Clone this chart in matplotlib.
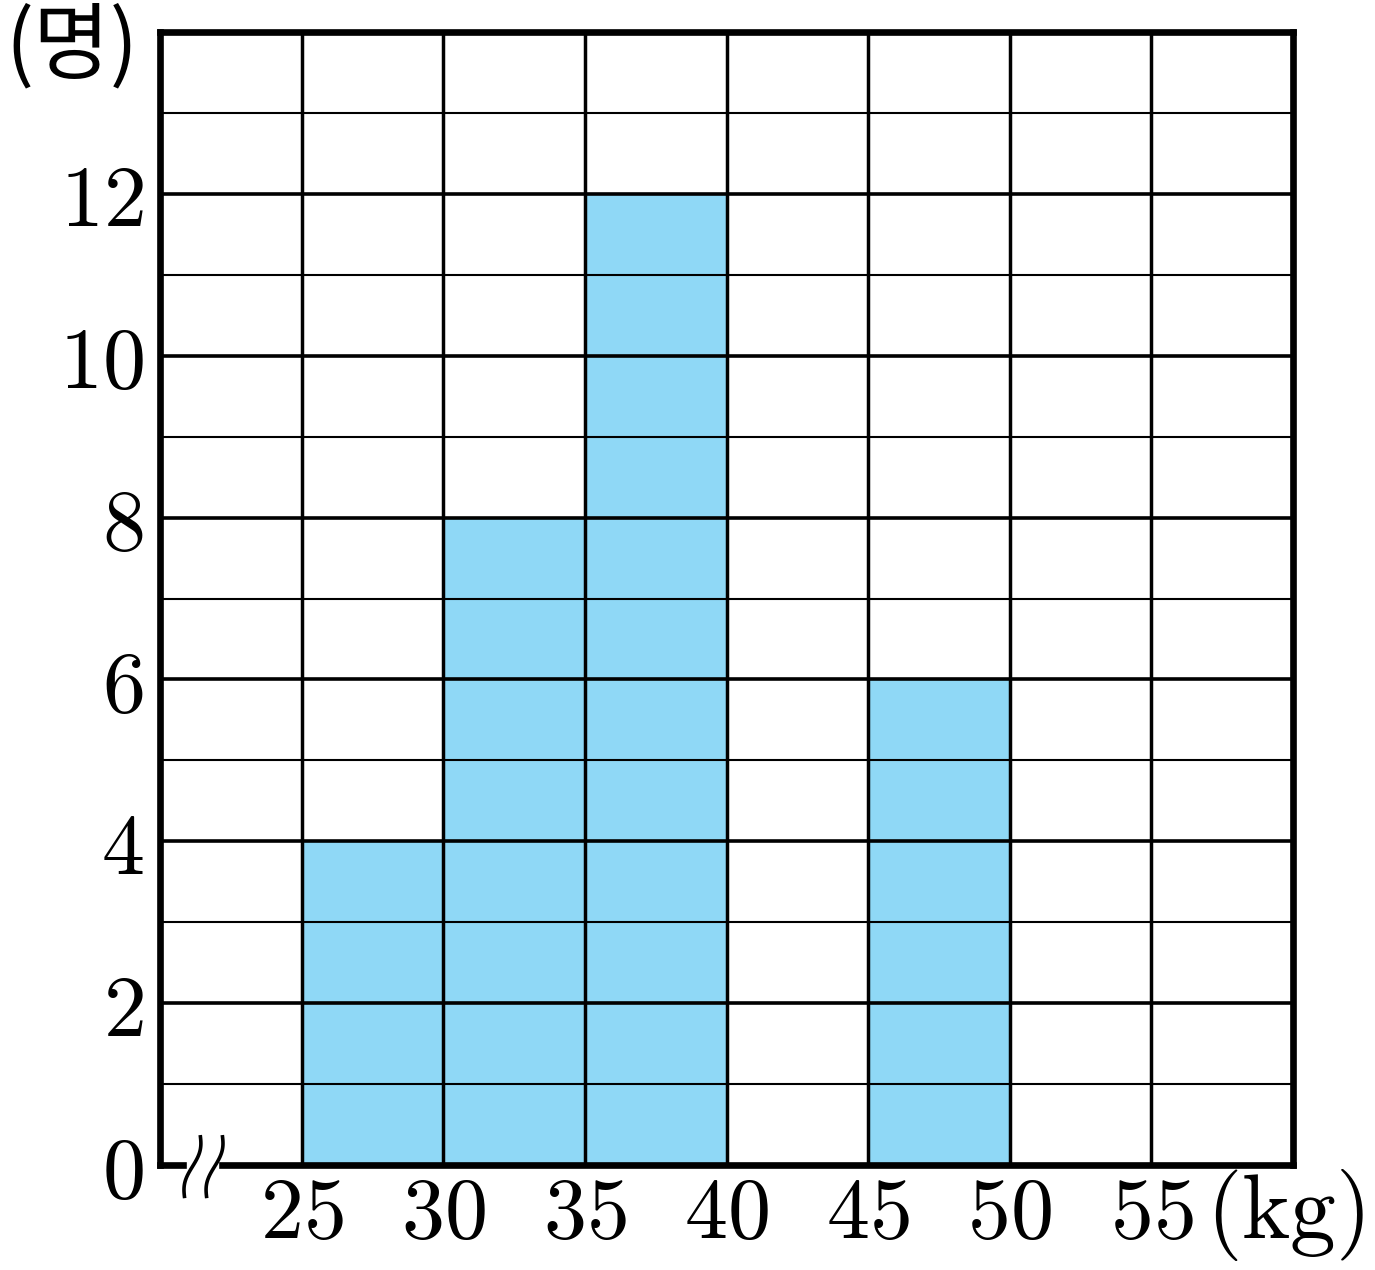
import matplotlib
matplotlib.use("Agg")
import matplotlib.pyplot as plt
import numpy as np

plt.rcParams['mathtext.fontset'] = 'cm'

# Data
bin_left = [25, 30, 35, 40, 45, 50, 55]
counts = [4, 8, 12, 0, 6, 0, 0]
x_tick_vals = [20, 25, 30, 35, 40, 45, 50, 55, 60]
x_tick_labels = ['', '25', '30', '35', '40', '45', '50', '55', '']
y_tick_vals = [0, 2, 4, 6, 8, 10, 12, 14]
y_tick_labels = ['0', '2', '4', '6', '8', '10', '12', '']

W, H = 1375, 1270
fig = plt.figure(figsize=(W / 100, H / 100), dpi=100)
ax = fig.add_axes([160 / W, 1 - 1165 / H, (1293 - 160) / W, (1165 - 32) / H])

ax.bar(bin_left, counts, width=5, align='edge', color='#8fd8f6', edgecolor='none', zorder=1)

ax.set_xlim(20, 60)
ax.set_ylim(0, 14)

ax.set_xticks(x_tick_vals)
ax.set_xticklabels(['$%s$' % t if t else '' for t in x_tick_labels])
ax.set_yticks(y_tick_vals)
ax.set_yticklabels(['$%s$' % t if t else '' for t in y_tick_labels])
ax.set_yticks(np.arange(1, 14, 2), minor=True)

ax.tick_params(axis='both', which='both', length=0)
ax.tick_params(axis='x', labelsize=62, pad=6)
ax.tick_params(axis='y', labelsize=62, pad=12)

for v in x_tick_vals[1:-1]:
    ax.axvline(v, color='black', lw=2.5, zorder=3)
for v in y_tick_vals[1:-1] + [14]:
    ax.axhline(v, color='black', lw=2.6, zorder=3)
for v in np.arange(1, 14, 2):
    ax.axhline(v, color='black', lw=1.5, zorder=3)

for s in ax.spines.values():
    s.set_linewidth(4.8)
    s.set_zorder(5)

# axis break mark
ax.fill_between([20.95, 22.05], [-0.06, -0.06], [0.06, 0.06], color='white', zorder=6, clip_on=False)
t = np.linspace(0, 1, 60)
for x0 in (21.42, 22.2):
    xs = x0 - 0.55 * t + 0.13 * np.sin(2 * np.pi * t)
    ys = 0.37 - 0.78 * t
    ax.plot(xs, ys, color='black', lw=2.6, zorder=7, clip_on=False, solid_capstyle='butt')

fig.text(5 / W, 1 - 47 / H, '(명)', fontsize=60, va='center', ha='left',
         family=['Noto Sans CJK KR', 'DejaVu Sans'])
fig.text(1206 / W, 1 - 1215 / H, r'$(\mathrm{kg})$', fontsize=66, va='center', ha='left')

fig.savefig('out.png', dpi=100, facecolor='white')
